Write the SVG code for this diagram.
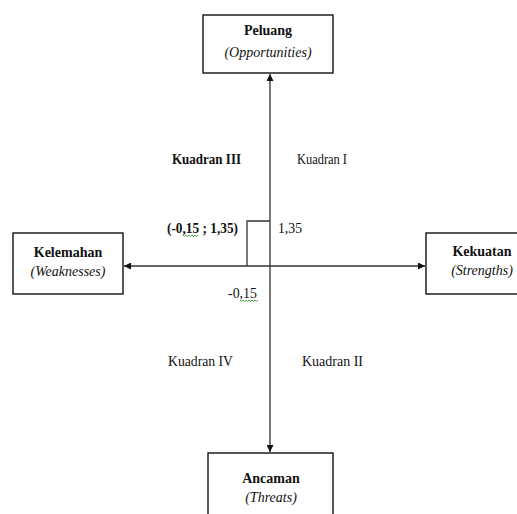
<svg xmlns="http://www.w3.org/2000/svg" width="517" height="514" viewBox="0 0 517 514">
<style>
.box{fill:#fff;stroke:#111;stroke-width:1.4}
.t{font-family:"Liberation Serif","Times New Roman",serif;font-size:14px;fill:#111}
.b{font-weight:bold}
.i{font-style:italic}
.m{text-anchor:middle}
.ln{stroke:#333;stroke-width:1.3;fill:none}
.sq{stroke:#3a9a3a;stroke-width:0.9;fill:none}
</style>
<defs>
<marker id="ah" viewBox="0 0 10 10" refX="10" refY="5" markerWidth="9" markerHeight="7" markerUnits="userSpaceOnUse" orient="auto">
<path d="M0,0 L10,5 L0,10 Z" fill="#111"/>
</marker>
</defs>
<rect width="517" height="514" fill="#fff"/>
<g id="connectors">
<line class="ln" x1="270" y1="266" x2="270" y2="74" marker-end="url(#ah)"/>
<line class="ln" x1="270" y1="266" x2="270" y2="452" marker-end="url(#ah)"/>
<line class="ln" x1="270" y1="266" x2="124" y2="266" marker-end="url(#ah)"/>
<line class="ln" x1="270" y1="266" x2="425" y2="266" marker-end="url(#ah)"/>
<polyline class="ln" points="247,266 247,221 270,221"/>
</g>
<g id="peluang">
<rect class="box" x="203" y="15" width="130" height="58"/>
<text class="t b m" x="268" y="35">Peluang</text>
<text class="t i m" x="268" y="57">(Opportunities)</text>
</g>
<g id="kelemahan">
<rect class="box" x="13" y="233" width="110" height="61"/>
<text class="t b m" x="68" y="257">Kelemahan</text>
<text class="t i m" x="68" y="276">(Weaknesses)</text>
</g>
<g id="kekuatan">
<rect class="box" x="426" y="233" width="120" height="61"/>
<text class="t b m" x="482" y="256">Kekuatan</text>
<text class="t i m" x="482" y="275">(Strengths)</text>
</g>
<g id="ancaman">
<rect class="box" x="208" y="453" width="125" height="80"/>
<text class="t b m" x="271" y="483">Ancaman</text>
<text class="t i m" x="271" y="502">(Threats)</text>
</g>
<g id="labels">
<text class="t b" x="172" y="164" textLength="69" lengthAdjust="spacingAndGlyphs">Kuadran III</text>
<text class="t" x="297" y="164" textLength="50" lengthAdjust="spacingAndGlyphs">Kuadran I</text>
<text class="t" x="168" y="366" textLength="65" lengthAdjust="spacingAndGlyphs">Kuadran IV</text>
<text class="t" x="302" y="366" textLength="61" lengthAdjust="spacingAndGlyphs">Kuadran II</text>
<text class="t b" x="167" y="233" textLength="71" lengthAdjust="spacingAndGlyphs">(-0,15 ; 1,35)</text>
<text class="t" x="278" y="233" textLength="24" lengthAdjust="spacingAndGlyphs">1,35</text>
<text class="t" x="228" y="298" textLength="29" lengthAdjust="spacingAndGlyphs">-0,15</text>
<path class="sq" d="M183,235 l1.5,1.5 l1.5,-1.5 l1.5,1.5 l1.5,-1.5 l1.5,1.5 l1.5,-1.5 l1.5,1.5 l1.5,-1.5 l1.5,1.5 l1.5,-1.5"/>
<path class="sq" d="M240,300 l1.5,1.5 l1.5,-1.5 l1.5,1.5 l1.5,-1.5 l1.5,1.5 l1.5,-1.5 l1.5,1.5 l1.5,-1.5 l1.5,1.5 l1.5,-1.5 l1.5,1.5 l1.5,-1.5"/>
</g>
</svg>
